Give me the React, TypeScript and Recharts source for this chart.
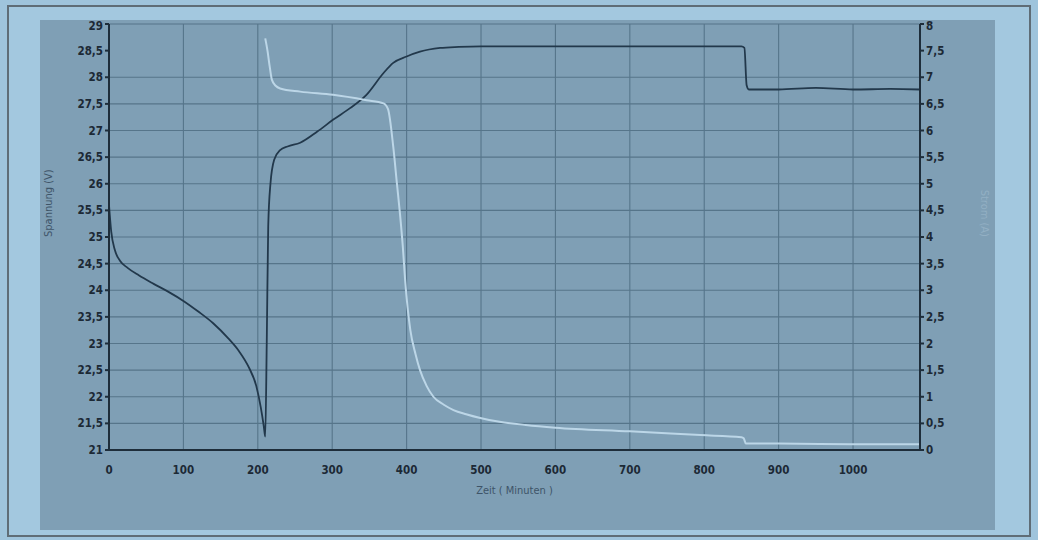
import React from "react";
import { LineChart, Line, XAxis, YAxis, CartesianGrid } from "recharts";

/* ------------------------------------------------------------------ */
/*  Data                                        */
/* ------------------------------------------------------------------ */

const voltageTime = [
  0, 3, 8, 15, 25, 40, 60, 80, 100, 120, 140, 160, 175, 188, 198, 204, 208,
  210, 212, 214, 217, 222, 230, 240, 257, 280, 301, 324, 346, 369, 382, 400,
  418, 445, 470, 500, 600, 700, 800, 850, 854, 857, 860, 900, 950, 1000, 1050,
  1090,
];
const voltageValues = [
  25.6, 25.1, 24.75, 24.55, 24.42, 24.28, 24.12, 23.97, 23.8, 23.6, 23.38,
  23.1, 22.85, 22.55, 22.2, 21.8, 21.45, 21.25, 23.0, 25.2, 26.0, 26.45,
  26.63, 26.7, 26.77, 26.98, 27.2, 27.42, 27.67, 28.08, 28.27, 28.39, 28.48,
  28.55, 28.57, 28.58, 28.58, 28.58, 28.58, 28.58, 28.55, 27.85, 27.77, 27.77,
  27.8, 27.77, 27.78, 27.77,
];

const currentTime = [
  210, 213, 216, 219, 224, 230, 257, 301, 346, 369, 375, 382, 387, 391, 395,
  398, 405, 412, 418, 427, 436, 450, 463, 480, 499, 525, 560, 600, 700, 795,
  850, 853, 856, 900, 1000, 1090,
];
const currentValues = [
  7.73, 7.5, 7.2, 6.95, 6.84, 6.79, 6.73, 6.67, 6.57, 6.51, 6.4, 5.7, 5.0,
  4.45, 3.8, 3.19, 2.25, 1.8, 1.5, 1.2, 1.0, 0.85, 0.75, 0.67, 0.6, 0.53,
  0.47, 0.42, 0.35, 0.28, 0.24, 0.22, 0.12, 0.12, 0.11, 0.11,
];

const timeTicks = [0, 100, 200, 300, 400, 500, 600, 700, 800, 900, 1000];
const voltageTicks = [
  21, 21.5, 22, 22.5, 23, 23.5, 24, 24.5, 25, 25.5, 26, 26.5, 27, 27.5, 28,
  28.5, 29,
];
const currentTicks = [
  0, 0.5, 1, 1.5, 2, 2.5, 3, 3.5, 4, 4.5, 5, 5.5, 6, 6.5, 7, 7.5, 8,
];

const voltageData = voltageTime.map((t, i) => ({ t, v: voltageValues[i] }));
const currentData = currentTime.map((t, i) => ({ t, a: currentValues[i] }));

const fmt = (n: number) => String(n).replace(".", ",");

/* ------------------------------------------------------------------ */
/*  Component                                                          */
/* ------------------------------------------------------------------ */

const tickStyle = {
  fill: "#1c2935",
  fontSize: 11.5,
  fontFamily: "'DejaVu Sans Condensed', 'DejaVu Sans', sans-serif",
  fontWeight: 600,
};

export default function App() {
  return (
    <div
      style={{
        position: "fixed",
        left: 0,
        top: 0,
        width: 1038,
        height: 540,
        background: "#9fc4dc",
        overflow: "hidden",
      }}
    >
      {/* outer frame */}
      <div
        style={{
          position: "absolute",
          left: 7,
          top: 5,
          width: 1024,
          height: 532,
          border: "2px solid #5f6d77",
          boxSizing: "border-box",
          background: "#a3c8df",
        }}
      />
      {/* chart panel */}
      <div
        style={{
          position: "absolute",
          left: 40,
          top: 20,
          width: 955,
          height: 510,
          background: "#7f9fb5",
        }}
      >
        <LineChart
          width={955}
          height={510}
          margin={{ top: 4, right: 0, bottom: 0, left: 0 }}
        >
          <CartesianGrid
            xAxisId="x"
            yAxisId="v"
            stroke="#56758a"
            strokeWidth={1.1}
          />
          <XAxis
            xAxisId="x"
            type="number"
            dataKey="t"
            domain={[0, 1090]}
            ticks={timeTicks}
            allowDataOverflow
            height={80}
            stroke="#1e2d3a"
            strokeWidth={2}
            tickLine={false}
            tick={tickStyle}
            tickMargin={10}
            label={{
              value: "Zeit ( Minuten )",
              position: "insideTop",
              offset: 36,
              fill: "#3e5468",
              fontSize: 11,
              fontFamily: "'DejaVu Sans Condensed', sans-serif",
            }}
          />
          <YAxis
            yAxisId="v"
            orientation="left"
            domain={[21, 29]}
            ticks={voltageTicks}
            tickFormatter={fmt}
            width={69}
            stroke="#1e2d3a"
            strokeWidth={2}
            tickSize={4}
            tick={tickStyle}
            tickMargin={2}
            label={{
              value: "Spannung (V)",
              angle: -90,
              position: "insideLeft",
              offset: 8,
              fill: "#3e5468",
              fontSize: 11,
              fontFamily: "'DejaVu Sans Condensed', sans-serif",
            }}
          />
          <YAxis
            yAxisId="a"
            orientation="right"
            domain={[0, 8]}
            ticks={currentTicks}
            tickFormatter={fmt}
            width={75}
            stroke="#1e2d3a"
            strokeWidth={2}
            tickSize={4}
            tick={{ ...tickStyle, textAnchor: "start" }}
            tickMargin={2}
            label={{
              value: "Strom (A)",
              angle: 90,
              position: "insideRight",
              offset: 10,
              fill: "#93b0c4",
              fontSize: 11,
              fontFamily: "'DejaVu Sans Condensed', sans-serif",
            }}
          />
          <Line
            xAxisId="x"
            yAxisId="v"
            data={voltageData}
            dataKey="v"
            type="monotone"
            stroke="#22384b"
            strokeWidth={1.8}
            dot={false}
            isAnimationActive={false}
          />
          <Line
            xAxisId="x"
            yAxisId="a"
            data={currentData}
            dataKey="a"
            type="monotone"
            stroke="#bcd6e7"
            strokeWidth={2}
            dot={false}
            isAnimationActive={false}
          />
        </LineChart>
      </div>
    </div>
  );
}
